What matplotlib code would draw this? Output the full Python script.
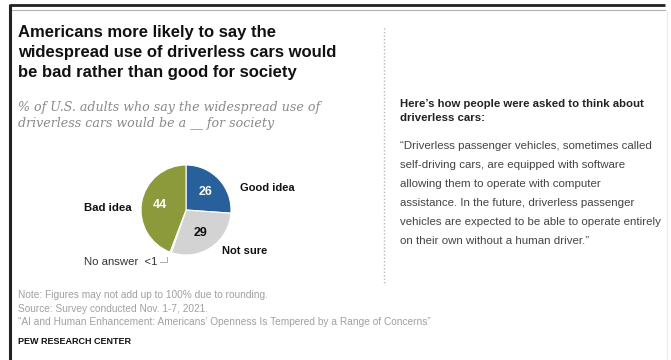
import matplotlib
matplotlib.use("Agg")
import matplotlib.pyplot as plt
import numpy as np

# ---- data ----
categories = ["Good idea", "Not sure", "No answer", "Bad idea"]
values = [26, 29, 0.5, 44]
value_labels = ["26", "29", "<1", "44"]
colors = ["#27609a", "#d3d3d3", "#d3d3d3", "#8c9a3c"]

title_lines = ["Americans more likely to say the",
               "widespread use of driverless cars would",
               "be bad rather than good for society"]
subtitle_lines = ["% of U.S. adults who say the widespread use of",
                  "driverless cars would be a __ for society"]
side_head = ["Here\u2019s how people were asked to think about",
             "driverless cars:"]
side_text = ["\u201cDriverless passenger vehicles, sometimes called",
             "self-driving cars, are equipped with software",
             "allowing them to operate with computer",
             "assistance. In the future, driverless passenger",
             "vehicles are expected to be able to operate entirely",
             "on their own without a human driver.\u201d"]
notes = ["Note: Figures may not add up to 100% due to rounding.",
         "Source: Survey conducted Nov. 1-7, 2021.",
         "\u201cAI and Human Enhancement: Americans\u2019 Openness Is Tempered by a Range of Concerns\u201d"]
brand = "PEW RESEARCH CENTER"

W, H = 671, 360
fig = plt.figure(figsize=(W / 100, H / 100), dpi=100)
fig.patch.set_facecolor("white")

bg = fig.add_axes([0, 0, 1, 1])
bg.set_xlim(0, W)
bg.set_ylim(H, 0)
bg.axis("off")

sans = ["Liberation Sans", "DejaVu Sans"]

# frame lines
bg.plot([10, 10], [4, 360], color="#222222", lw=2.2, solid_capstyle="butt")
bg.plot([10, 665], [5, 5], color="#222222", lw=2.0, solid_capstyle="butt")
bg.plot([12, 665], [10, 10], color="#b0b0b0", lw=0.8)
bg.plot([667, 667], [12, 360], color="#ececec", lw=0.8)

# dotted divider
bg.plot([384, 384], [28, 285], color="#b8b8b8", lw=1.0, linestyle=(0, (1, 1.5)))

# title
for i, t in enumerate(title_lines):
    bg.text(18, 33 + i * 20, t, fontsize=12.0, fontweight="bold", family=sans,
            color="#111111", va="center", ha="left")
# subtitle
for i, t in enumerate(subtitle_lines):
    bg.text(18, 107 + i * 17, t, fontsize=9.1, style="italic",
            family=["DejaVu Serif"], color="#8a8a8a", va="center", ha="left")

# side panel
for i, t in enumerate(side_head):
    bg.text(400, 104 + i * 14, t, fontsize=8.2, fontweight="bold", family=sans,
            color="#222222", va="center", ha="left")
for i, t in enumerate(side_text):
    bg.text(400, 146 + i * 19, t, fontsize=8.25, family=sans,
            color="#444444", va="center", ha="left")

# footer
for i, t in enumerate(notes):
    bg.text(18, 295 + i * 13.5, t, fontsize=7.3, family=sans,
            color="#a0a0a0", va="center", ha="left")
bg.text(18, 341, brand, fontsize=6.5, fontweight="bold", family=sans,
        color="#111111", va="center", ha="left")

# pie
cx, cy, r = 186, 210, 45
pax = fig.add_axes([(cx - r) / W, (H - cy - r) / H, 2 * r / W, 2 * r / H])
wedges, _ = pax.pie(values, colors=colors, startangle=90, counterclock=False,
                    radius=1, wedgeprops=dict(edgecolor="white", linewidth=0.8))
pax.set_xlim(-1, 1)
pax.set_ylim(-1, 1)
pax.set_aspect("equal")
pax.axis("off")

inside = {0: "white", 1: "#111111", 3: "white"}
for i, col in inside.items():
    w = wedges[i]
    ang = np.deg2rad((w.theta1 + w.theta2) / 2)
    pax.text(0.6 * np.cos(ang), 0.6 * np.sin(ang), value_labels[i], ha="center",
             va="center", fontsize=9, fontweight="bold", family=sans, color=col)

# outside labels
bg.text(240, 188, categories[0], fontsize=8.0, fontweight="bold", family=sans,
        color="#111111", va="center", ha="left")
bg.text(84, 208, categories[3], fontsize=8.2, fontweight="bold", family=sans,
        color="#111111", va="center", ha="left")
bg.text(222, 251, categories[1], fontsize=8.0, fontweight="bold", family=sans,
        color="#111111", va="center", ha="left")
bg.text(84, 262, categories[2] + "  " + value_labels[2], fontsize=8.2, family=sans,
        color="#333333", va="center", ha="left")
bg.plot([160, 167, 167], [262, 262, 257], color="#aaaaaa", lw=0.7)

fig.savefig("out.png", dpi=100, facecolor="white")
